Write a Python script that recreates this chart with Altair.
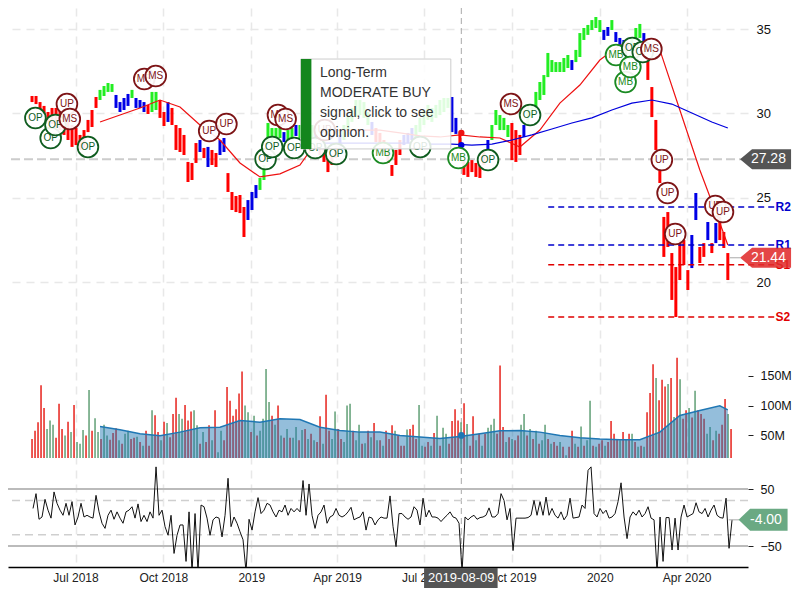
import altair as alt
import pandas as pd

FONT = "Liberation Sans"
BASE = pd.Timestamp("2018-07-01")

# ---- price bars (one every ~4.2 calendar days from mid May 2018)
price_high = [31.03,31.03,30.67,30.44,30.08,30.32,30.32,30.20,29.73,29.49,29.31,29.13,28.72,29.01,29.61,30.20,30.97,31.39,31.62,31.80,
 31.74,31.09,30.67,30.91,31.15,31.39,30.91,30.79,30.67,30.50,31.27,31.27,30.79,30.08,30.67,30.32,29.31,29.13,28.72,27.12,
 27.06,28.24,28.42,27.95,28.01,27.83,27.65,28.42,28.54,26.46,25.34,25.10,25.16,24.45,24.86,25.34,25.75,26.17,26.94,29.43,
 29.13,29.13,29.31,28.89,29.01,29.13,29.31,29.31,29.61,29.49,29.31,29.13,28.42,27.95,27.35,27.53,28.12,28.72,29.31,29.90,
 30.32,30.79,30.79,30.67,30.08,29.49,29.13,28.84,28.42,27.83,26.94,27.83,28.42,28.72,28.84,29.13,29.31,29.73,30.20,30.50,
 30.32,30.50,30.79,30.91,30.91,30.97,29.73,28.72,27.23,27.12,27.23,27.06,26.94,27.83,28.42,29.31,30.20,29.90,29.73,29.31,
 29.43,29.01,28.72,29.31,30.50,30.50,31.27,31.86,32.27,33.58,33.16,33.04,33.04,33.28,33.46,33.16,33.76,34.76,35.06,35.24,
 35.53,35.71,35.53,34.94,35.12,35.53,34.82,34.47,34.35,34.23,34.47,35.06,35.30,34.76,34.17,31.56,29.61,26.64,23.86,24.15,
 21.72,20.89,22.49,22.49,20.71,22.79,25.28,22.08,22.31,23.56,22.31,23.50,23.86,22.97,21.72]
price_low = [30.67,30.55,30.20,29.96,29.49,29.37,29.13,29.01,28.72,28.42,28.01,28.12,27.83,27.95,28.89,29.19,30.32,30.79,31.03,31.27,
 31.27,30.32,30.08,30.20,30.44,30.91,30.32,30.32,30.08,29.96,30.08,30.20,29.73,29.25,29.49,29.31,27.83,27.71,27.53,25.93,
 26.05,27.06,27.71,27.35,26.82,26.94,26.82,27.53,27.71,25.34,24.27,24.15,24.09,22.67,23.68,24.27,24.98,25.46,26.05,28.12,
 28.30,28.42,28.54,28.30,28.42,28.42,28.66,28.54,28.72,28.89,28.54,28.42,27.53,27.12,26.52,26.94,27.35,27.83,28.42,29.01,
 29.49,29.78,29.90,29.73,29.31,28.72,28.30,28.01,27.71,27.06,26.29,26.94,27.53,28.12,28.24,28.42,28.54,28.89,29.31,29.61,
 29.49,29.73,29.90,30.08,30.32,28.89,28.78,28.01,26.35,26.23,26.52,26.23,26.17,26.94,27.83,28.42,29.31,29.01,29.01,28.60,
 27.23,27.12,27.53,28.60,29.31,29.73,30.20,30.79,31.09,32.15,32.45,32.45,32.45,32.45,32.69,32.57,33.04,33.34,34.35,34.65,
 34.94,35.06,34.82,34.35,34.59,34.94,34.23,33.99,33.87,33.76,33.76,34.35,34.47,34.23,31.98,29.78,27.83,25.87,21.49,22.08,
 18.94,17.93,20.12,21.01,19.53,20.83,23.68,21.13,21.49,22.49,21.72,22.31,22.49,22.02,20.12]
price_state_runs = [("R",17),("G",4),("B",4),("G",1),("B",3),("R",1),("G",2),("R",2),("B",1),("R",7),("B",1),("R",1),("B",1),("R",2),("B",2),
 ("R",5),("B",3),("G",6),("B",1),("G",2),("B",1),("G",4),("B",1),("R",5),("B",1),("G",7),("B",1),("R",7),("B",3),("G",9),("B",2),("R",7),("B",1),
 ("G",5),("R",3),("B",1),("G",11),("B",1),("G",7),("B",2),("G",1),("B",3),("R",1),("G",3),("B",1),("R",11),("B",2),("R",2),("B",1),("R",1),("B",1),("R",3)]

sma_red = [29.49,29.90,30.32,30.79,30.38,29.31,28.42,27.06,26.23,26.41,26.94,28.60,29.01,29.01,29.01,28.84,28.66,28.60,28.72,28.60,28.54,
 28.01,29.01,30.61,31.68,33.16,34.05,34.05,33.76,30.20,26.64,23.50,22.20]
sma_blue = [28.24,28.24,28.24,28.24,28.24,28.24,28.18,28.18,28.12,28.18,28.42,28.72,29.07,29.43,29.73,30.20,30.61,30.79,30.55,30.02,29.49,29.13]

# ---- volume (millions), one bar every ~3.1 calendar days
volume = [44,58,72,134,96,61,75,68,46,103, 61,50,73,56,101,39,36,59,50,126, 58,79,56,44,68,50,43,54,62,42, 36,53,58,44,46,48,39,33,58,33,
 92,84,56,42,73,71,47,86,113,86, 78,101,75,90,92,67,36,56,39,67, 42,92,22,58,42,131,108,83,94,120, 157,100,89,56,83,50,58,78,161,106,
 83,68,100,50,46,61,46,46,64,42, 59,61,44,53,42,39,82,36,118,58, 44,90,61,44,39,100,103,58,42,68, 36,37,58,47,71,42,42,33,58,44,
 67,58,50,33,33,60,61,68,44,101, 33,31,39,33,54,83,33,63,53,36, 74,94,75,72,104,69,33,82,42,53, 33,53,63,68,78,53,167,64,39,47,
 44,42,50,68,86,50,61,44,58,36, 42,68,44,36,39,33,39,31,17,31, 58,36,31,65,33,42,108,33,31,36, 42,33,39,74,53,44,42,56,44,53,
 53,39,31,33,31,89,121,169,146,109, 143,132,136,146,81,180,144,78,92,96, 80,125,92,86,78,53,64,42,58,53, 68,111,86,61]
volume_side = ("RRRRRGGGRR" "RGRGRGGGRG" "RGGRGGRRRG" "RGGRRGRGRR" "GRRGRGRRRG" "GRRRGGRGRR" "GRGGRRRRRR" "RGGRGRGGGG"
 "RGRGRGRGGR" "GRGRGRRGRR" "GGRRGGGRGG" "RGRGRGRGRR" "RGRRRGRRRG" "GRRGRGRGGR" "RRRGRGRRGR" "GRGGGRRRGR"
 "GRRGGRGRGR" "GGRGRRGRGR" "RGRGRGGRGR" "RGRRRRGRGR" "GRGRGRRRGR" "RRGRGRGRRG" "RGRRRGGRGR" "RRGR")
volume_avg = [65,59.5,52.8,49.5,55.6,62.8,63.9,75,72.2,77.8,76.7,63.9,58.4,55.6,55.6,50,47.3,45,48.4,52.8,57.8,58.4,55.6,50,46.1,43.9,42.8,42.8,55.6,83.4,91.7,99.5,92.8]

# ---- oscillator
cci = [16,42,-3,1,32,13,-1,45,25,13, 4,25,4,28,-13,1,25,1,4,1, -1,39,10,-10,-19,4,13,-3,10,-1, -10,10,13,19,-1,24,-7,4,-7,10,
 -1,89,4,13,-16,-31,4,-63,-31,-13, -13,-77,10,-95,7,-95,22,19,-1,-31, -4,1,-1,-34,4,69,-16,1,-10,-25, -39,-95,-3,-22,10,35,7,13,25,22,
 10,1,13,10,22,4,16,10,16,10, 65,4,59,4,-19,4,10,22,-10,1, 4,16,4,1,4,10,18,-4,-1,1, 10,-22,1,-1,-13,-4,1,-1,-1,38, -16,-51,7,
 7,1,-3,1,19,13,-13, 34,1,13,1,1,-1,-7,-1,4,10, 1,-1,-10,-95,1,-4,1,4,-3,0, 1,4,17,1,1,7,42,30,-4,16, -58,-1,-1,-1,-1,0,4,30,4,28,
 4,36,4,16,4,-1,10,-4,4,34, -1,0,1,22,16,83,89,7,1,16, 7,13,-1,1,7,28,61,1,-37,1, 10,4,13,1,7,19,-1,-4,-95,1, -77,0,0,-57,-1,-57,1,22,1,4,
 7,26,10,7,16,1,13,22,4,0, -1,34,-54,-4]

# ---- signal bubbles: day offset from 2018-07-01, price, label
signal_day = [-42,-26,-21,-9,-6,13,72,84,140,158,199,206,212,220,229,251,261,273,322,361,401,432,456,476,566,576,583,581,594,603,614,620,628,670,678]
signal_price = [29.72,28.54,29.31,30.55,29.67,28.01,32.04,32.21,28.95,29.37,27.29,28.01,29.90,29.67,27.95,27.95,29.01,27.59,27.65,28.01,27.35,27.23,30.55,29.90,33.46,31.86,33.87,32.75,33.64,33.82,27.23,25.28,22.85,24.51,24.15]
signal_label = ["OP","OP","OP","UP","MS","OP","MS","MS","UP","UP","OP","OP","MS","MS","OP","OP","UP","OP","MB","OP","MB","OP","MS","OP","MB","MB","OP","MB","OP","MS","UP","UP","UP","UP","UP"]
signal_color = {"OP": "#0f5c1f", "MB": "#1a8a22", "MS": "#7d1416", "UP": "#7d1416"}

levels = [("R2", 24.45, "#0000cc"), ("R1", 22.20, "#0000cc"), ("S1", 21.03, "#e00000"), ("S2", 17.93, "#e00000")]
note_lines = ["Long-Term", "MODERATE BUY", "signal, click to see", "opinion."]
note_line_price = [32.39, 31.21, 30.02, 28.84]

axis_months = [(2018,7),(2018,10),(2019,1),(2019,4),(2019,7),(2019,10),(2020,1),(2020,4)]

PRICE_DOM = [3.11, 36.245]
VOL_DOM = [-170, 765]
CCI_DOM = [-86.8, 894.7]
VOL_FLOOR = 12.5
X_DOM = ["2018-04-21T07:00:00", "2020-06-04T05:00:00"]

def day(d):
    return BASE + pd.Timedelta(days=d)

x_axis = alt.Axis(
    values=[alt.DateTime(year=y, month=m, date=1) for y, m in axis_months],
    labelExpr="timeFormat(datum.value, month(datum.value)==0 ? '%Y' : '%b %Y')",
    grid=True, gridColor="#e8e8e8", gridDash=[8, 6], gridWidth=1.5,
    ticks=False, domain=True, domainColor="#000000", domainWidth=1.5,
    labelFont=FONT, labelFontSize=12, labelColor="#222222", labelPadding=5, labelFlush=False, orient="bottom")

xscale = alt.Scale(domain=X_DOM)
def X(field="date"):
    return alt.X(f"{field}:T", scale=xscale, axis=x_axis, title=None)
def Y(field, dom, axis=None):
    return alt.Y(f"{field}:Q", scale=alt.Scale(domain=dom, nice=False, zero=False), axis=axis, title=None)

start = pd.Timestamp("2018-05-16T11:00:00")
price_dates = [start + i * pd.Timedelta(hours=100.5) for i in range(len(price_high))]
states = "".join(s * n for s, n in price_state_runs)
price_df = pd.DataFrame({"date": price_dates, "high": price_high, "low": price_low, "state": list(states)})

vol_df = pd.DataFrame({"date": [start + i * pd.Timedelta(hours=75.4) for i in range(len(volume))],
                       "vol": volume, "side": list(volume_side), "floor": VOL_FLOOR})
cci_df = pd.DataFrame({"date": [start + pd.Timedelta(hours=25) + i * pd.Timedelta(hours=75.4) for i in range(len(cci))], "cci": cci})

ma_dates_red = price_dates[17::5] + [price_dates[174]]
ma_dates_blue = price_dates[70::5] + [price_dates[174]]
red_df = pd.DataFrame({"date": ma_dates_red, "v": sma_red})
blue_df = pd.DataFrame({"date": ma_dates_blue, "v": sma_blue})
avg_df = pd.DataFrame({"date": ma_dates_red, "v": volume_avg, "floor": VOL_FLOOR})

price_axis = alt.Axis(values=[20, 25, 30, 35], orient="right", domain=False, ticks=False, labelPadding=8,
                      labelFont=FONT, labelFontSize=13, labelColor="#111111", grid=True,
                      gridColor="#e8e8e8", gridDash=[8, 6], gridWidth=1.5)
vol_axis = alt.Axis(values=[50, 100, 150], orient="right", domain=False, ticks=True, tickSize=5, tickColor="#222222",
                    labelPadding=7, labelExpr="datum.value + 'M'", grid=False,
                    labelFont=FONT, labelFontSize=12.5, labelColor="#111111")
cci_axis = alt.Axis(values=[-50, 50], orient="right", domain=False, ticks=True, tickSize=5, tickColor="#222222",
                    labelPadding=7, grid=False, labelFont=FONT, labelFontSize=12.5, labelColor="#111111")

layers = []

# crosshair and last-price guide
layers.append(alt.Chart(pd.DataFrame({"date": [day(404)]})).mark_rule(color="#aaaaaa", strokeDash=[6, 4], strokeWidth=1).encode(x=X()))
layers.append(alt.Chart(pd.DataFrame({"v": [27.28]})).mark_rule(color="#cccccc", strokeDash=[9, 4], strokeWidth=2).encode(y=Y("v", PRICE_DOM)))

# oscillator bands
for val, dash, col in [(50, None, "#bbbbbb"), (-50, None, "#bbbbbb"), (30, [8, 5], "#cfcfcf"), (-30, [8, 5], "#cfcfcf")]:
    kw = {"strokeDash": dash} if dash else {}
    layers.append(alt.Chart(pd.DataFrame({"v": [val]})).mark_rule(color=col, strokeWidth=2 if not dash else 1.5, **kw).encode(y=Y("v", CCI_DOM)))

# volume
layers.append(alt.Chart(vol_df).mark_rule(strokeWidth=1.6).encode(
    x=X(), y=Y("vol", VOL_DOM, vol_axis), y2=alt.Y2("floor"),
    color=alt.Color("side:N", scale=alt.Scale(domain=["R", "G"], range=["#e8302a", "#6aa57e"]), legend=None)))
layers.append(alt.Chart(avg_df).mark_area(color="#1f77b4", opacity=0.48).encode(x=X(), y=Y("v", VOL_DOM), y2=alt.Y2("floor")))
layers.append(alt.Chart(avg_df).mark_line(color="#1f77b4", strokeWidth=1.5).encode(x=X(), y=Y("v", VOL_DOM)))
layers.append(alt.Chart(pd.DataFrame({"date": [day(404)], "v": [50]})).mark_circle(color="#1f77b4", size=45, opacity=1).encode(x=X(), y=Y("v", VOL_DOM)))

# oscillator
layers.append(alt.Chart(cci_df).mark_line(color="#111111", strokeWidth=1, clip=True).encode(x=X(), y=Y("cci", CCI_DOM, cci_axis)))

# price bars
layers.append(alt.Chart(price_df).mark_rule(strokeWidth=3).encode(
    x=X(), y=Y("high", PRICE_DOM, price_axis), y2=alt.Y2("low"),
    color=alt.Color("state:N", scale=alt.Scale(domain=["R", "G", "B"], range=["#ff0000", "#22ee22", "#0000e6"]), legend=None)))
layers.append(alt.Chart(red_df).mark_line(color="#ee1111", strokeWidth=1.2).encode(x=X(), y=Y("v", PRICE_DOM)))
layers.append(alt.Chart(blue_df).mark_line(color="#0000dd", strokeWidth=1.2).encode(x=X(), y=Y("v", PRICE_DOM)))
layers.append(alt.Chart(pd.DataFrame({"date": [day(404), day(404)], "v": [28.84, 28.12], "c": ["r", "b"]})).mark_circle(size=40, opacity=1).encode(
    x=X(), y=Y("v", PRICE_DOM), color=alt.Color("c:N", scale=alt.Scale(domain=["r", "b"], range=["#ee1111", "#0000dd"]), legend=None)))

# support / resistance
for name, val, col in levels:
    df = pd.DataFrame({"date": [day(495)], "end": [day(732)], "v": [val], "txt": [name], "tx": [day(733)]})
    layers.append(alt.Chart(df).mark_rule(color=col, strokeDash=[6, 4], strokeWidth=1.4).encode(x=X(), x2=alt.X2("end"), y=Y("v", PRICE_DOM)))
    layers.append(alt.Chart(df).mark_text(color=col, font=FONT, fontSize=12, fontWeight="bold", align="left", baseline="middle").encode(
        x=X("tx"), y=Y("v", PRICE_DOM), text="txt:N"))

# signal bubbles, drawn one by one so later ones cover earlier ones
for d, p, lab in zip(signal_day, signal_price, signal_label):
    df = pd.DataFrame({"date": [day(d)], "v": [p], "lab": [lab]})
    col = signal_color[lab]
    layers.append(alt.Chart(df).mark_point(filled=True, fill="#ffffff", fillOpacity=0.92, stroke=col, strokeWidth=1.8, strokeOpacity=1, size=430, shape="circle", opacity=1).encode(
        x=X(), y=Y("v", PRICE_DOM)))
    layers.append(alt.Chart(df).mark_text(color=col, font=FONT, fontSize=10).encode(x=X(), y=Y("v", PRICE_DOM), text="lab:N"))

# note box
box = pd.DataFrame({"date": [day(236)], "end": [day(393)], "strip": [day(247)], "top": [33.22], "bot": [27.89]})
layers.append(alt.Chart(box).mark_rect(fill="#ffffff", fillOpacity=0.86, stroke="#cccccc", strokeWidth=1).encode(
    x=X(), x2=alt.X2("end"), y=Y("top", PRICE_DOM), y2=alt.Y2("bot")))
layers.append(alt.Chart(box).mark_rect(fill="#14861d").encode(
    x=X(), x2=alt.X2("strip"), y=Y("top", PRICE_DOM), y2=alt.Y2("bot")))
note_df = pd.DataFrame({"date": [day(256)] * 4, "v": note_line_price, "txt": note_lines})
layers.append(alt.Chart(note_df).mark_text(align="left", baseline="middle", font=FONT, fontSize=14, color="#333333").encode(
    x=X(), y=Y("v", PRICE_DOM), text="txt:N"))

# value tags
def tag_shape(half):
    return f"M-1,0L-0.53,-{half}L1,-{half}L1,{half}L-0.53,{half}Z"

tags = [(27.28, "27.28", PRICE_DOM, "#555555", 1.0, 722.6, 2601, 0.39, None),
        (21.44, "21.44", PRICE_DOM, "#e02c2c", 0.88, 722.6, 2601, 0.39, (685, 696)),
        (-4.0, "-4.00", CCI_DOM, "#6aa983", 1.0, 720, 2401, 0.45, (684, 695))]
for val, txt, dom, col, op, d, size, half, lead in tags:
    if lead:
        ld = pd.DataFrame({"date": [day(lead[0])], "end": [day(lead[1])], "v": [val]})
        layers.append(alt.Chart(ld).mark_rule(color="#aaaaaa", strokeWidth=1).encode(x=X(), x2=alt.X2("end"), y=Y("v", dom)))
    df = pd.DataFrame({"date": [day(d)], "tx": [day(d + 3)], "v": [val], "txt": [txt]})
    layers.append(alt.Chart(df).mark_point(shape=tag_shape(half), filled=True, fill=col, size=size, opacity=op, strokeWidth=0).encode(
        x=X(), y=Y("v", dom)))
    layers.append(alt.Chart(df).mark_text(color="#ffffff", font=FONT, fontSize=14).encode(
        x=X("tx"), y=Y("v", dom), text="txt:N"))

# crosshair date tag
dt = pd.DataFrame({"date": [day(365)], "end": [day(442)], "top": [-88.6], "bot": [-123.7], "mid": [-106], "c": [day(404)], "txt": ["2019-08-09"]})
layers.append(alt.Chart(dt).mark_rect(fill="#555555").encode(x=X(), x2=alt.X2("end"), y=Y("top", CCI_DOM), y2=alt.Y2("bot")))
layers.append(alt.Chart(dt).mark_text(color="#ffffff", font=FONT, fontSize=13).encode(x=X("c"), y=Y("mid", CCI_DOM), text="txt:N"))

chart = alt.layer(*layers).resolve_scale(y="independent", color="independent").properties(
    width=740, height=559, autosize=alt.AutoSizeParams(type="none"),
    padding={"left": 0, "top": 0, "right": 44, "bottom": 25},
    background="#ffffff"
).configure_view(stroke=None)

chart.save("out.html", embed_options={"renderer": "svg", "actions": False})
